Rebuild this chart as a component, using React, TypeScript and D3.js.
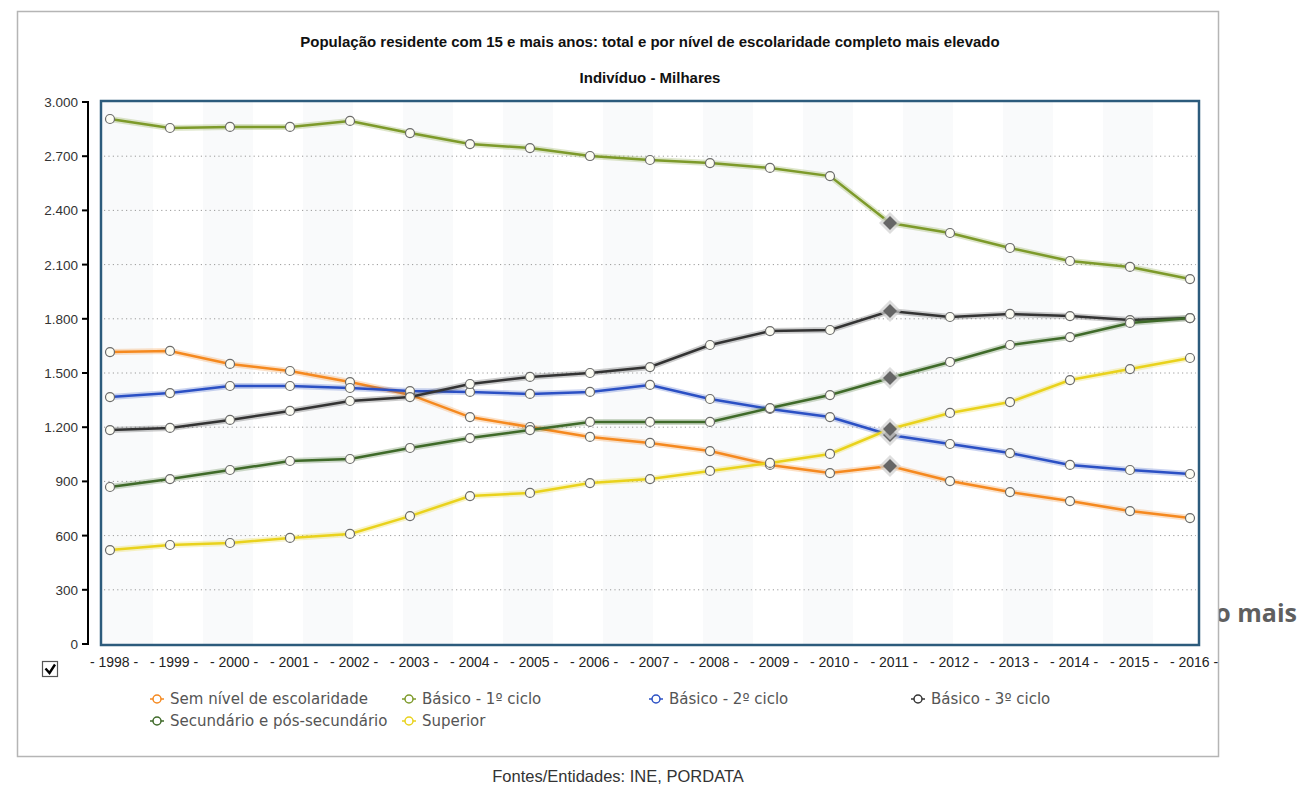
import React from "react";
import * as d3 from "d3";

const years = ["1998","1999","2000","2001","2002","2003","2004","2005","2006","2007","2008","2009","2010","2011","2012","2013","2014","2015","2016"];
const yTicks = [0, 300, 600, 900, 1200, 1500, 1800, 2100, 2400, 2700, 3000];

const semNivel = [1616,1622,1550,1511,1450,1380,1256,1201,1146,1113,1068,991,946,985,902,841,791,736,697];
const basico1 = [2906,2856,2862,2862,2895,2828,2767,2745,2701,2679,2662,2635,2590,2330,2275,2192,2120,2087,2020];
const basico2 = [1367,1389,1428,1428,1417,1400,1395,1384,1395,1434,1356,1301,1256,1157,1107,1057,991,963,941];
const basico3 = [1184,1196,1240,1290,1345,1367,1439,1478,1500,1533,1655,1732,1738,1843,1810,1827,1815,1793,1804];
const secundario = [869,913,963,1013,1024,1085,1140,1184,1229,1229,1229,1306,1378,1472,1561,1655,1699,1777,1804];
const superior = [520,548,559,587,609,708,819,836,891,913,958,1002,1052,1190,1279,1339,1461,1522,1583];

const seriesNames = ["Sem nível de escolaridade","Básico - 1º ciclo","Básico - 2º ciclo","Básico - 3º ciclo","Secundário e pós-secundário","Superior"];
const seriesValues = [semNivel, basico1, basico2, basico3, secundario, superior];
const seriesColors = ["#f5891f","#7d9a2a","#2b50c4","#333333","#3f6a29","#e9d21c"];
const highlightYear = "2011";

const W = 1297, H = 785;
const plot = { left: 101, top: 101, right: 1199, bottom: 645 };

export default function App() {
  const x = d3.scalePoint<string>().domain(years).range([plot.left, plot.right]).padding(0.15);
  const y = d3.scaleLinear().domain([0, 3000]).range([644, 102]);
  const line = d3.line<number>().x((_, i) => x(years[i]) as number).y(d => y(d));
  const fmt = (v: number) => d3.format(",")(v).replace(/,/g, ".");
  const stripes = d3.range(plot.left + 2, plot.right, 100);
  const drawOrder = [1, 0, 2, 3, 4, 5];
  const legendPos = [[157, 699], [409, 699], [656, 699], [918, 699], [157, 721], [409, 721]];

  return (
    <div style={{ position: "fixed", left: 0, top: 0 }}>
      <svg width={W} height={H} style={{ display: "block", fontFamily: "'Liberation Sans', Arial, sans-serif" }}>
        <rect x={0} y={0} width={W} height={H} fill="#fff" />
        <text x={1297} y={622} textAnchor="end" fontSize={25} fontWeight="bold" fill="#5f5f5f" fontFamily="'Open Sans', sans-serif">o mais</text>
        <rect x={17.5} y={11.5} width={1201} height={745} fill="#fff" stroke="#b5b5b5" strokeWidth={1.5} />

        <text x={650} y={47} textAnchor="middle" fontSize={15} fontWeight="bold" fill="#111">População residente com 15 e mais anos: total e por nível de escolaridade completo mais elevado</text>
        <text x={650} y={83} textAnchor="middle" fontSize={15} fontWeight="bold" fill="#111">Indivíduo - Milhares</text>

        {/* plot background stripes */}
        {stripes.map((sx, i) => (
          <rect key={i} x={sx} y={plot.top} width={Math.min(50, plot.right - sx)} height={plot.bottom - plot.top} fill="#f9fafb" />
        ))}

        {/* gridlines */}
        {yTicks.filter(t => t > 0 && t < 3000).map(t => (
          <line key={t} x1={plot.left + 3} x2={plot.right - 3} y1={y(t)} y2={y(t)} stroke="#9a9a9a" strokeWidth={1} strokeDasharray="1.2,3.2" />
        ))}

        {/* frame */}
        <rect x={plot.left} y={plot.top} width={plot.right - plot.left} height={plot.bottom - plot.top} fill="none" stroke="#2c5b7c" strokeWidth={2.5} />

        {/* y axis */}
        <line x1={88} x2={88} y1={y(3000)} y2={y(0)} stroke="#000" strokeWidth={2} />
        {yTicks.map(t => (
          <g key={t}>
            <line x1={82} x2={89} y1={y(t)} y2={y(t)} stroke="#000" strokeWidth={2} />
            <text x={78} y={y(t) + 5} textAnchor="end" fontSize={13.5} fill="#333">{fmt(t)}</text>
          </g>
        ))}

        {/* x labels */}
        {years.map(yr => (
          <text key={yr} x={(x(yr) as number) + 4} y={667} textAnchor="middle" fontSize={14} fill="#222">{`- ${yr} -`}</text>
        ))}

        {/* series */}
        {drawOrder.map(si => (
          <g key={si}>
            <path d={line(seriesValues[si]) || ""} fill="none" stroke={seriesColors[si]} strokeOpacity={0.25} strokeWidth={6} />
            <path d={line(seriesValues[si]) || ""} fill="none" stroke={seriesColors[si]} strokeWidth={2.5} />
          </g>
        ))}
        {drawOrder.map(si => (
          <g key={"m" + si}>
            {seriesValues[si].map((v, i) => {
              const cx = x(years[i]) as number;
              const cy = y(v);
              if (years[i] === highlightYear) {
                return (
                  <g key={i}>
                    <path d={`M${cx},${cy - 11}L${cx + 11},${cy}L${cx},${cy + 11}L${cx - 11},${cy}Z`} fill="#d0d0d0" opacity={0.7} />
                    <path d={`M${cx},${cy - 7}L${cx + 7},${cy}L${cx},${cy + 7}L${cx - 7},${cy}Z`} fill="#666" />
                  </g>
                );
              }
              return <circle key={i} cx={cx} cy={cy} r={4.5} fill="#fdfdf4" stroke="#6b6b6b" strokeWidth={1.2} />;
            })}
          </g>
        ))}

        {/* checkbox */}
        <rect x={42.5} y={661.5} width={15} height={15} fill="#fff" stroke="#555" strokeWidth={1.2} />
        <path d="M45.5,668.5 L49.5,673 L55,664.5" fill="none" stroke="#000" strokeWidth={2.4} />

        {/* legend */}
        {seriesNames.map((name, i) => {
          const [lx, ly] = legendPos[i];
          return (
            <g key={name}>
              <line x1={lx - 7} x2={lx + 7} y1={ly} y2={ly} stroke={seriesColors[i]} strokeWidth={1.5} />
              <circle cx={lx} cy={ly} r={4} fill="#fff" stroke={seriesColors[i]} strokeWidth={1.5} />
              <text x={lx + 13} y={ly + 5} fontSize={15} fill="#555" fontFamily="'DejaVu Sans', Verdana, sans-serif">{name}</text>
            </g>
          );
        })}

        <text x={618} y={782} textAnchor="middle" fontSize={16.5} fill="#333">Fontes/Entidades: INE, PORDATA</text>
      </svg>
    </div>
  );
}
